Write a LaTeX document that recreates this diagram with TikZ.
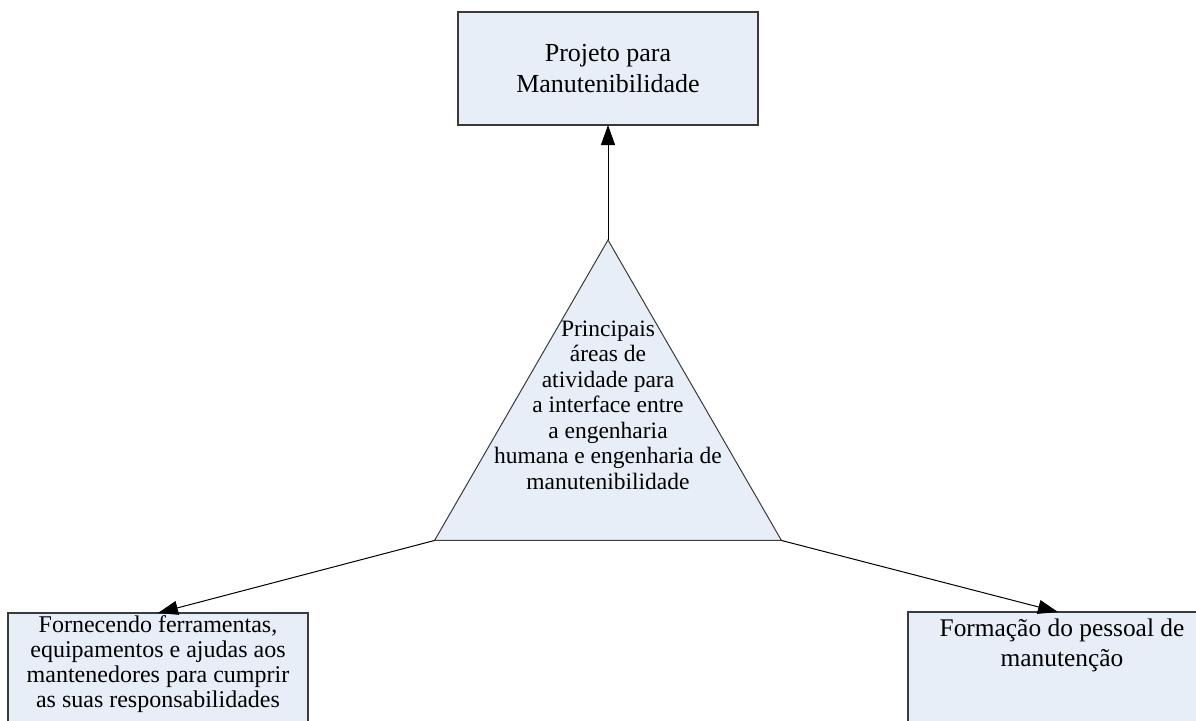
\documentclass[tikz,border=0pt]{standalone}
\usepackage{fontspec}
\setmainfont{Liberation Serif}
\usepackage{tikz}
\usetikzlibrary{arrows.meta,positioning,shapes.geometric}
\definecolor{mnfill}{HTML}{E8EEF8}
\definecolor{mnline}{HTML}{3A3A3A}
\tikzset{
  box/.style={draw=mnline,fill=mnfill,line width=1.2pt,align=center,
              minimum width=300pt,inner sep=0pt,outer sep=0pt},
  tri/.style={draw=mnline,fill=mnfill,line width=1pt,regular polygon,
              regular polygon sides=3,minimum size=400.6pt,inner sep=0pt,outer sep=0pt},
  txt/.style={align=center,inner sep=0pt},
  ar/.style={-{Triangle[length=20pt,width=14pt]},line width=1pt,black},
}

\begin{document}
\begin{tikzpicture}[x=1pt,y=-1pt,node distance=115pt]
    \useasboundingbox (0,0) rectangle (1196,720);
    \clip (0,0) rectangle (1196,720);
    \node[box,minimum height=113pt,font=\fontsize{26}{31.5}\selectfont] (proj) at (608,68.5)
      {Projeto para\\Manutenibilidade};
    \node[tri,below=of proj] (core) {};
    \node[txt,font=\fontsize{23.5}{25.5}\selectfont] (coretxt) at (608,405)
      {Principais\\áreas de\\atividade para\\a interface entre\\a engenharia\\humana e engenharia de\\manutenibilidade};
    \node[box,minimum height=130pt,anchor=north] (lbox) at (158,613) {};
    \node[txt,anchor=north,font=\fontsize{24}{25}\selectfont] (ltxt) at (158,615.5)
      {Fornecendo ferramentas,\\equipamentos e ajudas aos\\mantenedores para cumprir\\as suas responsabilidades};
    \node[box,minimum height=130pt,anchor=north] (rbox) at (1058,612) {};
    \node[txt,anchor=north,font=\fontsize{25.4}{30}\selectfont] (rtxt) at (1062,618.5)
      {Formação do pessoal de\\manutenção};
    \draw[ar](core.corner 1)--(proj);
    \draw[ar](core.corner 2)--(lbox.north);
    \draw[ar](core.corner 3)--(rbox.north);
  \end{tikzpicture}
\end{document}
